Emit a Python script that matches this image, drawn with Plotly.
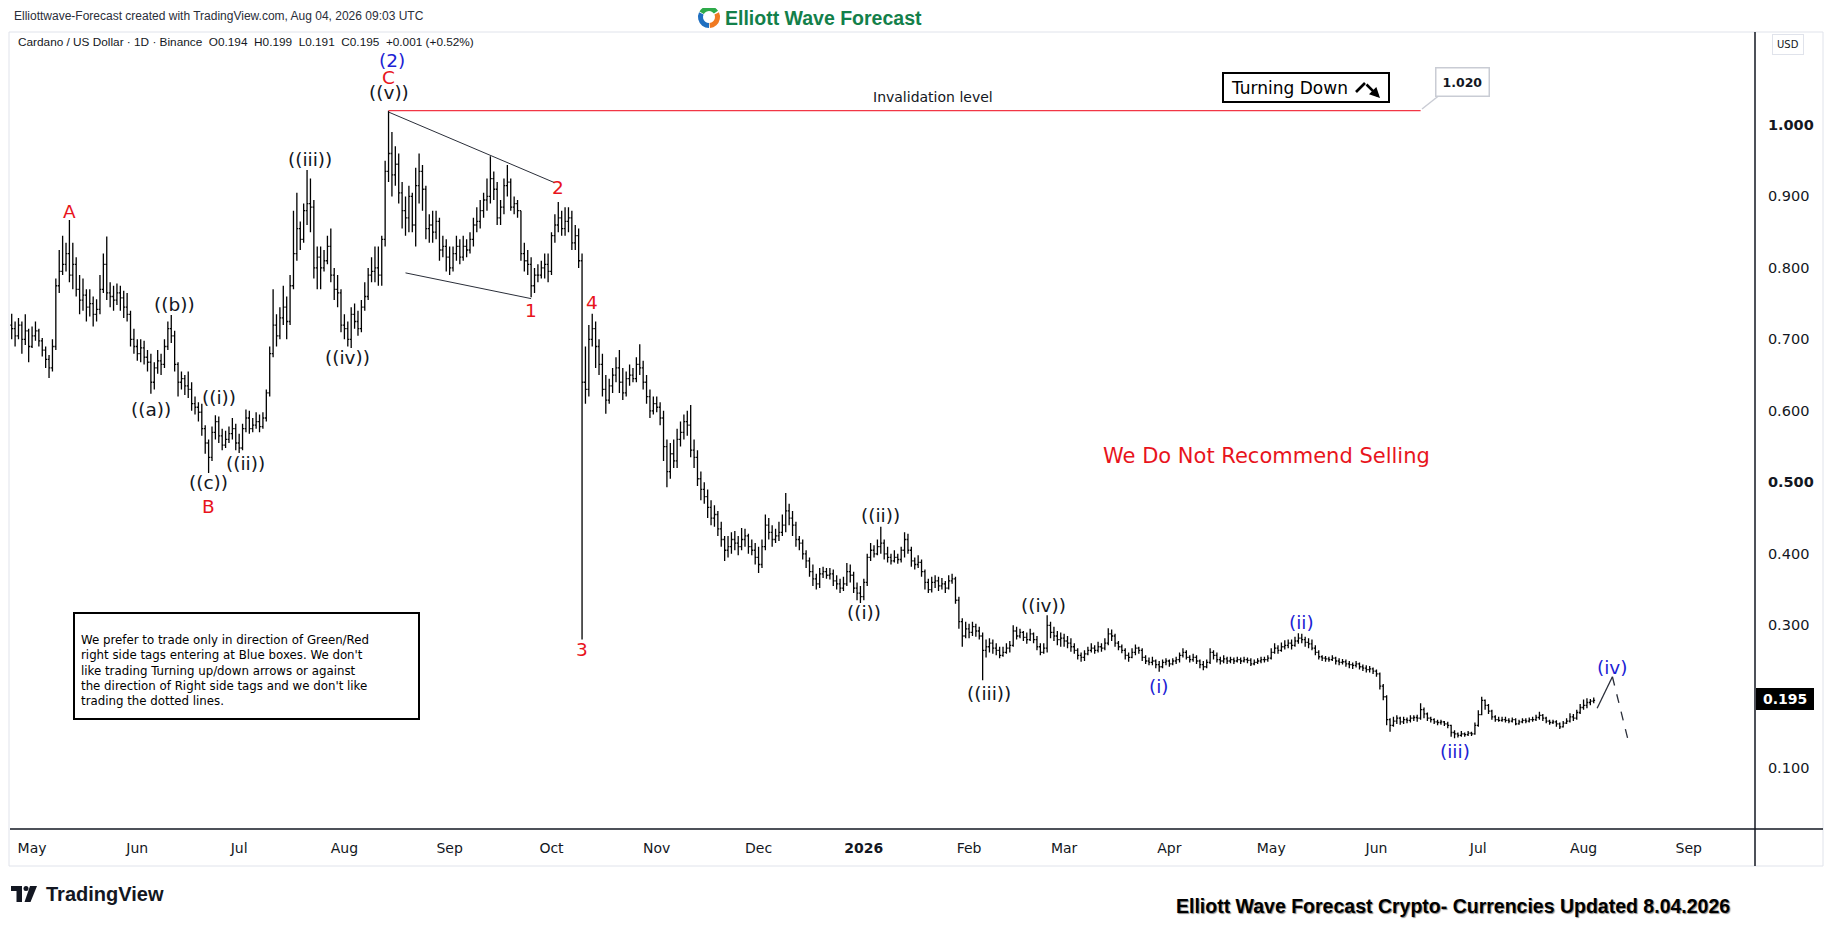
import math
import pandas as pd
import plotly.graph_objects as go

# the page body has an 8px margin, so the figure starts at page pixel (8, 8);
# the pane spans page pixels x 10..1755, y 32..829
W, H = 1827, 917
ML, MR, MT, MB = 2, 80, 24, 96
PW, PH = W - ML - MR, H - MT - MB


def px(x):
    return (x - 10) / PW


def py(y):
    return (829 - y) / PH


# ---- daily ADA/USD bars, 2025-04-25 .. 2026-08-04 ----
first_open = 0.720
close = [
    0.715, 0.705, 0.720, 0.700, 0.712, 0.690,
    0.705, 0.712, 0.698, 0.685, 0.672, 0.660, 0.690, 0.775, 0.795, 0.805, 0.820, 0.790, 0.805, 0.770,
    0.755, 0.762, 0.745, 0.750, 0.735, 0.742, 0.770, 0.805, 0.765, 0.760, 0.755, 0.765, 0.758, 0.745, 0.735, 0.700, 0.690,
    0.680, 0.688, 0.675, 0.668, 0.640, 0.660, 0.670, 0.665, 0.690, 0.715, 0.705, 0.665, 0.640, 0.645,
    0.635, 0.630, 0.610, 0.605, 0.598, 0.575, 0.555, 0.535, 0.570, 0.585, 0.565, 0.552, 0.560, 0.568, 0.575, 0.555,
    0.548, 0.575, 0.590, 0.575, 0.580, 0.585, 0.578, 0.590, 0.625, 0.680, 0.720, 0.705, 0.730, 0.745,
    0.725, 0.775, 0.820, 0.855, 0.840, 0.880, 0.890, 0.885, 0.800, 0.815, 0.800, 0.810, 0.830, 0.790, 0.770, 0.765, 0.720,
    0.715, 0.700, 0.735, 0.725, 0.715, 0.745, 0.760, 0.790, 0.795, 0.800, 0.790, 0.840, 0.935, 0.960,
    0.930, 0.945, 0.905, 0.880, 0.870, 0.900, 0.860, 0.915, 0.935, 0.910, 0.855, 0.860, 0.850, 0.865, 0.825, 0.830, 0.815,
    0.800, 0.820, 0.830, 0.815, 0.830, 0.825, 0.840, 0.860, 0.865, 0.880, 0.895, 0.900, 0.925, 0.910,
    0.870, 0.885, 0.915, 0.920, 0.885, 0.890, 0.880, 0.820, 0.810, 0.805, 0.775, 0.790, 0.790, 0.800, 0.805, 0.795,
    0.845, 0.860, 0.870, 0.855, 0.865, 0.870, 0.835, 0.845, 0.810, 0.640, 0.630, 0.700, 0.715, 0.690,
    0.665, 0.630, 0.615, 0.635, 0.650, 0.660, 0.640, 0.625, 0.645, 0.650, 0.645, 0.665, 0.660, 0.640, 0.620, 0.600, 0.610,
    0.605, 0.590, 0.550, 0.515, 0.540, 0.530, 0.560, 0.570, 0.585, 0.580, 0.545, 0.535, 0.505, 0.490,
    0.480, 0.465, 0.450, 0.455, 0.435, 0.420, 0.405, 0.410, 0.420, 0.415, 0.410, 0.420, 0.425, 0.410, 0.405, 0.395,
    0.385, 0.410, 0.440, 0.430, 0.420, 0.425, 0.430, 0.440, 0.460, 0.450, 0.440, 0.420, 0.415, 0.400,
    0.390, 0.375, 0.365, 0.358, 0.372, 0.375, 0.370, 0.372, 0.362, 0.358, 0.352, 0.358, 0.375, 0.370, 0.352, 0.345, 0.340,
    0.360, 0.395, 0.405, 0.400, 0.410, 0.415, 0.400, 0.395, 0.390, 0.395, 0.392, 0.405, 0.420, 0.405,
    0.390, 0.385, 0.388, 0.375, 0.360, 0.350, 0.360, 0.362, 0.355, 0.358, 0.352, 0.362, 0.365, 0.335, 0.305, 0.285, 0.295,
    0.290, 0.298, 0.292, 0.285, 0.265, 0.270, 0.275, 0.268, 0.265, 0.258, 0.262, 0.268, 0.272, 0.292,
    0.285, 0.290, 0.283, 0.280, 0.288, 0.280, 0.270, 0.262, 0.268, 0.300, 0.290, 0.285, 0.280, 0.282,
    0.278, 0.275, 0.270, 0.265, 0.258, 0.255, 0.260, 0.265, 0.268, 0.265, 0.270, 0.268, 0.275, 0.288,
    0.285, 0.275, 0.270, 0.265, 0.258, 0.255, 0.262, 0.268, 0.265, 0.255, 0.250, 0.248, 0.250, 0.245, 0.242, 0.248, 0.250,
    0.246, 0.250, 0.252, 0.258, 0.262, 0.255, 0.252, 0.255, 0.250, 0.245, 0.242, 0.248, 0.262, 0.258,
    0.252, 0.250, 0.253, 0.250, 0.252, 0.250, 0.252, 0.250, 0.252, 0.251, 0.246, 0.248, 0.250, 0.252, 0.252, 0.254,
    0.262, 0.268, 0.265, 0.270, 0.272, 0.275, 0.272, 0.278, 0.282, 0.280, 0.276, 0.274, 0.268, 0.262,
    0.256, 0.254, 0.253, 0.252, 0.254, 0.250, 0.248, 0.249, 0.246, 0.245, 0.244, 0.246, 0.242, 0.240, 0.238, 0.239, 0.236,
    0.232, 0.215, 0.200, 0.168, 0.160, 0.166, 0.170, 0.165, 0.168, 0.167, 0.170, 0.171, 0.170, 0.182,
    0.176, 0.170, 0.168, 0.165, 0.164, 0.165, 0.162, 0.160, 0.150, 0.148, 0.146, 0.148, 0.147, 0.149, 0.148, 0.160,
    0.175, 0.195, 0.188, 0.180, 0.172, 0.168, 0.167, 0.168, 0.167, 0.166, 0.168, 0.162, 0.165, 0.167,
    0.166, 0.168, 0.168, 0.171, 0.174, 0.170, 0.166, 0.164, 0.165, 0.162, 0.158, 0.163, 0.166, 0.172, 0.170, 0.178, 0.185,
    0.188, 0.192, 0.194, 0.195,
]
high = [
    0.736, 0.725, 0.730, 0.725, 0.735, 0.715,
    0.718, 0.725, 0.715, 0.702, 0.690, 0.678, 0.700, 0.785, 0.825, 0.845, 0.835, 0.867, 0.835, 0.815,
    0.790, 0.785, 0.770, 0.770, 0.760, 0.756, 0.790, 0.820, 0.844, 0.780, 0.775, 0.778, 0.775, 0.768, 0.765, 0.740, 0.715,
    0.700, 0.700, 0.698, 0.685, 0.680, 0.668, 0.685, 0.680, 0.700, 0.725, 0.734, 0.712, 0.668, 0.655,
    0.650, 0.655, 0.640, 0.620, 0.612, 0.610, 0.580, 0.560, 0.578, 0.594, 0.592, 0.575, 0.572, 0.578, 0.590, 0.582,
    0.568, 0.582, 0.602, 0.600, 0.590, 0.598, 0.595, 0.598, 0.630, 0.690, 0.770, 0.735, 0.745, 0.775,
    0.760, 0.790, 0.880, 0.905, 0.865, 0.890, 0.937, 0.925, 0.895, 0.830, 0.830, 0.825, 0.845, 0.855, 0.800, 0.790, 0.770,
    0.735, 0.725, 0.745, 0.750, 0.740, 0.755, 0.780, 0.800, 0.815, 0.830, 0.830, 0.845, 0.950, 1.020,
    0.990, 0.970, 0.960, 0.920, 0.900, 0.915, 0.905, 0.940, 0.960, 0.944, 0.915, 0.875, 0.880, 0.880, 0.870, 0.845, 0.840,
    0.830, 0.830, 0.845, 0.840, 0.845, 0.840, 0.850, 0.870, 0.885, 0.895, 0.905, 0.925, 0.956, 0.935,
    0.920, 0.895, 0.925, 0.944, 0.925, 0.900, 0.895, 0.880, 0.835, 0.825, 0.815, 0.800, 0.805, 0.810, 0.820, 0.820,
    0.850, 0.875, 0.892, 0.880, 0.885, 0.885, 0.880, 0.860, 0.855, 0.820, 0.690, 0.720, 0.736, 0.725,
    0.700, 0.680, 0.650, 0.645, 0.660, 0.675, 0.685, 0.660, 0.655, 0.665, 0.660, 0.675, 0.693, 0.670, 0.650, 0.630, 0.620,
    0.620, 0.612, 0.600, 0.560, 0.555, 0.560, 0.575, 0.585, 0.595, 0.600, 0.608, 0.560, 0.545, 0.515,
    0.500, 0.490, 0.475, 0.468, 0.460, 0.445, 0.425, 0.425, 0.430, 0.432, 0.425, 0.436, 0.435, 0.428, 0.420, 0.415,
    0.410, 0.420, 0.455, 0.450, 0.440, 0.435, 0.445, 0.455, 0.485, 0.470, 0.460, 0.445, 0.425, 0.420,
    0.405, 0.395, 0.385, 0.372, 0.380, 0.382, 0.380, 0.380, 0.378, 0.370, 0.365, 0.368, 0.387, 0.385, 0.375, 0.360, 0.355,
    0.365, 0.400, 0.415, 0.412, 0.420, 0.438, 0.420, 0.410, 0.400, 0.405, 0.400, 0.410, 0.430, 0.428,
    0.410, 0.395, 0.398, 0.392, 0.378, 0.365, 0.368, 0.370, 0.368, 0.366, 0.362, 0.370, 0.372, 0.368, 0.340, 0.310, 0.305,
    0.302, 0.305, 0.302, 0.298, 0.290, 0.280, 0.282, 0.280, 0.275, 0.270, 0.270, 0.275, 0.278, 0.300,
    0.298, 0.295, 0.292, 0.290, 0.295, 0.290, 0.285, 0.275, 0.275, 0.314, 0.305, 0.298, 0.292, 0.290,
    0.288, 0.285, 0.282, 0.275, 0.268, 0.262, 0.265, 0.270, 0.275, 0.272, 0.277, 0.275, 0.282, 0.296,
    0.294, 0.288, 0.278, 0.273, 0.268, 0.262, 0.268, 0.273, 0.270, 0.268, 0.258, 0.255, 0.256, 0.252, 0.250, 0.252, 0.254,
    0.252, 0.254, 0.256, 0.262, 0.268, 0.265, 0.258, 0.260, 0.258, 0.252, 0.250, 0.252, 0.268, 0.265,
    0.262, 0.256, 0.258, 0.256, 0.256, 0.255, 0.256, 0.255, 0.256, 0.255, 0.254, 0.252, 0.254, 0.256, 0.256, 0.258,
    0.268, 0.275, 0.272, 0.276, 0.279, 0.280, 0.280, 0.284, 0.289, 0.288, 0.284, 0.282, 0.280, 0.272,
    0.265, 0.258, 0.257, 0.256, 0.258, 0.256, 0.254, 0.253, 0.252, 0.250, 0.248, 0.250, 0.248, 0.245, 0.244, 0.243, 0.241,
    0.238, 0.234, 0.218, 0.202, 0.170, 0.172, 0.174, 0.172, 0.172, 0.171, 0.174, 0.174, 0.175, 0.191,
    0.185, 0.178, 0.172, 0.170, 0.168, 0.168, 0.166, 0.165, 0.161, 0.153, 0.150, 0.152, 0.150, 0.152, 0.151, 0.164,
    0.181, 0.200, 0.196, 0.190, 0.182, 0.174, 0.172, 0.172, 0.172, 0.170, 0.171, 0.170, 0.168, 0.170,
    0.170, 0.171, 0.172, 0.175, 0.179, 0.176, 0.172, 0.168, 0.168, 0.167, 0.164, 0.166, 0.170, 0.177, 0.176, 0.182, 0.190,
    0.196, 0.198, 0.197, 0.199,
]
low = [
    0.700, 0.690, 0.700, 0.680, 0.692, 0.668,
    0.688, 0.698, 0.690, 0.676, 0.660, 0.646, 0.655, 0.685, 0.765, 0.790, 0.795, 0.780, 0.770, 0.760,
    0.735, 0.740, 0.725, 0.732, 0.718, 0.725, 0.735, 0.765, 0.755, 0.745, 0.740, 0.748, 0.740, 0.730, 0.725, 0.690, 0.680,
    0.670, 0.668, 0.665, 0.655, 0.624, 0.630, 0.652, 0.650, 0.660, 0.685, 0.695, 0.655, 0.620, 0.630,
    0.622, 0.618, 0.600, 0.595, 0.585, 0.565, 0.540, 0.513, 0.530, 0.560, 0.555, 0.545, 0.548, 0.555, 0.560, 0.545,
    0.541, 0.545, 0.570, 0.568, 0.570, 0.575, 0.570, 0.575, 0.585, 0.620, 0.675, 0.690, 0.700, 0.720,
    0.700, 0.720, 0.770, 0.810, 0.825, 0.835, 0.860, 0.850, 0.785, 0.770, 0.770, 0.795, 0.805, 0.780, 0.755, 0.745, 0.710,
    0.700, 0.690, 0.688, 0.715, 0.705, 0.710, 0.740, 0.755, 0.780, 0.780, 0.775, 0.775, 0.830, 0.920,
    0.900, 0.915, 0.890, 0.855, 0.845, 0.850, 0.850, 0.830, 0.890, 0.880, 0.840, 0.835, 0.835, 0.840, 0.810, 0.815, 0.795,
    0.790, 0.795, 0.810, 0.805, 0.810, 0.815, 0.820, 0.830, 0.850, 0.855, 0.870, 0.880, 0.890, 0.895,
    0.860, 0.860, 0.875, 0.900, 0.880, 0.875, 0.870, 0.810, 0.795, 0.790, 0.759, 0.765, 0.780, 0.785, 0.785, 0.780,
    0.790, 0.835, 0.850, 0.845, 0.845, 0.850, 0.825, 0.825, 0.800, 0.280, 0.610, 0.620, 0.690, 0.660,
    0.650, 0.620, 0.596, 0.610, 0.625, 0.640, 0.625, 0.615, 0.620, 0.635, 0.640, 0.640, 0.650, 0.630, 0.610, 0.590, 0.595,
    0.598, 0.580, 0.530, 0.493, 0.505, 0.520, 0.520, 0.550, 0.560, 0.565, 0.535, 0.520, 0.495, 0.475,
    0.470, 0.450, 0.440, 0.438, 0.425, 0.410, 0.390, 0.395, 0.400, 0.405, 0.398, 0.405, 0.410, 0.400, 0.398, 0.385,
    0.373, 0.380, 0.405, 0.420, 0.410, 0.415, 0.418, 0.425, 0.430, 0.440, 0.425, 0.410, 0.405, 0.392,
    0.380, 0.368, 0.355, 0.350, 0.352, 0.366, 0.365, 0.364, 0.355, 0.350, 0.345, 0.348, 0.355, 0.360, 0.345, 0.335, 0.331,
    0.335, 0.355, 0.390, 0.395, 0.398, 0.400, 0.392, 0.388, 0.385, 0.388, 0.386, 0.388, 0.395, 0.400,
    0.382, 0.378, 0.380, 0.368, 0.350, 0.345, 0.346, 0.352, 0.348, 0.350, 0.345, 0.350, 0.358, 0.330, 0.295, 0.270, 0.282,
    0.282, 0.285, 0.284, 0.280, 0.223, 0.255, 0.262, 0.260, 0.258, 0.254, 0.256, 0.260, 0.262, 0.270,
    0.280, 0.282, 0.278, 0.274, 0.278, 0.275, 0.265, 0.258, 0.260, 0.262, 0.282, 0.278, 0.272, 0.270,
    0.270, 0.268, 0.263, 0.260, 0.252, 0.249, 0.250, 0.258, 0.262, 0.260, 0.262, 0.263, 0.265, 0.272,
    0.278, 0.270, 0.265, 0.261, 0.252, 0.249, 0.254, 0.258, 0.260, 0.250, 0.246, 0.244, 0.244, 0.240, 0.235, 0.240, 0.244,
    0.242, 0.244, 0.246, 0.248, 0.255, 0.252, 0.248, 0.249, 0.246, 0.240, 0.237, 0.240, 0.246, 0.252,
    0.248, 0.245, 0.247, 0.246, 0.247, 0.246, 0.248, 0.246, 0.248, 0.247, 0.243, 0.244, 0.246, 0.247, 0.248, 0.249,
    0.252, 0.260, 0.260, 0.263, 0.266, 0.268, 0.266, 0.270, 0.274, 0.275, 0.270, 0.268, 0.265, 0.258,
    0.252, 0.250, 0.249, 0.249, 0.250, 0.245, 0.244, 0.245, 0.242, 0.240, 0.239, 0.241, 0.238, 0.236, 0.234, 0.234, 0.232,
    0.228, 0.210, 0.195, 0.160, 0.151, 0.158, 0.162, 0.161, 0.162, 0.163, 0.164, 0.166, 0.165, 0.168,
    0.170, 0.166, 0.164, 0.162, 0.160, 0.161, 0.159, 0.156, 0.144, 0.142, 0.143, 0.144, 0.144, 0.145, 0.145, 0.147,
    0.158, 0.174, 0.182, 0.176, 0.168, 0.165, 0.165, 0.165, 0.164, 0.163, 0.164, 0.160, 0.161, 0.163,
    0.163, 0.164, 0.165, 0.166, 0.168, 0.166, 0.163, 0.161, 0.162, 0.158, 0.155, 0.157, 0.162, 0.164, 0.166, 0.168, 0.176,
    0.182, 0.184, 0.188, 0.191,
]

# axis ticks
month_ticks = ["2025-05-01", "2025-06-01", "2025-07-01", "2025-08-01", "2025-09-01", "2025-10-01",
               "2025-11-01", "2025-12-01", "2026-01-01", "2026-02-01", "2026-03-01", "2026-04-01",
               "2026-05-01", "2026-06-01", "2026-07-01", "2026-08-01", "2026-09-01"]
month_labels = ["May", "Jun", "Jul", "Aug", "Sep", "Oct", "Nov", "Dec", "<b>2026</b>", "Feb", "Mar",
                "Apr", "May", "Jun", "Jul", "Aug", "Sep"]
price_ticks = [0.1, 0.2, 0.3, 0.4, 0.5, 0.6, 0.7, 0.8, 0.9, 1.0]
price_labels = ["0.100", "", "0.300", "0.400", "<b>0.500</b>", "0.600", "0.700", "0.800", "0.900",
                "<b>1.000</b>"]
last_price = 0.195
invalidation = 1.020

RED, BLUE, INK = "#e8141c", "#1c22d4", "#131722"

# Elliott wave labels: text, date, price, colour
wave_text = ["A", "((b))", "((a))", "((i))", "((c))", "B", "((ii))", "((iii))", "((iv))", "((v))", "C", "(2)",
             "1", "2", "3", "4", "((ii))", "((i))", "((iv))", "((iii))", "(i)", "(ii)", "(iii)", "(iv)"]
wave_date = ["2025-05-12", "2025-06-12", "2025-06-05", "2025-06-25", "2025-06-22", "2025-06-22",
             "2025-07-03", "2025-07-22", "2025-08-02", "2025-08-14", "2025-08-14", "2025-08-15",
             "2025-09-25", "2025-10-03", "2025-10-10", "2025-10-13", "2026-01-06", "2026-01-01",
             "2026-02-23", "2026-02-07", "2026-03-29", "2026-05-10", "2026-06-24", "2026-08-09 12:00"]
wave_price = [0.879, 0.749, 0.602, 0.618, 0.500, 0.466, 0.526, 0.951, 0.674, 1.045, 1.066, 1.090,
              0.741, 0.913, 0.266, 0.751, 0.453, 0.318, 0.327, 0.204, 0.215, 0.304, 0.123, 0.241]
wave_color = [RED, INK, INK, INK, INK, RED, INK, INK, INK, INK, RED, BLUE,
              RED, RED, RED, RED, INK, INK, INK, INK, BLUE, BLUE, BLUE, BLUE]

# drawn lines: (date0, price0, date1, price1)
triangle_lines = [("2025-08-14", 1.018, "2025-10-02", 0.919),
                  ("2025-08-19", 0.793, "2025-09-25", 0.757)]
projection_up = ("2026-08-05", 0.184, "2026-08-09 12:00", 0.228)
projection_down = ("2026-08-09 12:00", 0.228, "2026-08-14 12:00", 0.132)
invalidation_span = ("2025-08-14", "2026-06-14")

note = ("We prefer to trade only in direction of Green/Red<br>"
        "right side tags entering at Blue boxes. We don't<br>"
        "like trading Turning up/down arrows or against<br>"
        "the direction of Right side tags and we don't like<br>"
        "trading the dotted lines.")

# ---- bars ----
dates = pd.date_range("2025-04-25", periods=len(close), freq="D")
opens = [first_open] + close[:-1]
highs = [max(h, o, c) for h, o, c in zip(high, opens, close)]
lows = [min(l, o, c) for l, o, c in zip(low, opens, close)]

fig = go.Figure(go.Ohlc(
    x=dates, open=opens, high=highs, low=lows, close=close,
    increasing=dict(line=dict(color="black", width=1.3)),
    decreasing=dict(line=dict(color="black", width=1.3)),
    tickwidth=0.4, hoverinfo="skip", showlegend=False,
))

shapes = []


def seg(x0, y0, x1, y1, color, width=1, dash="solid", ref="data"):
    d = dict(type="line", x0=x0, y0=y0, x1=x1, y1=y1, line=dict(color=color, width=width, dash=dash),
             layer="above")
    if ref == "paper":
        d.update(xref="paper", yref="paper")
    shapes.append(d)


# pane frame and axis lines
shapes.append(dict(type="rect", xref="paper", yref="paper", x0=px(9), x1=px(1823), y0=py(32), y1=py(866),
                   line=dict(color="#e0e3eb", width=1), layer="below"))
seg(px(1755), py(32), px(1755), py(866), "#131722", 1.5, ref="paper")
seg(px(10), py(829), px(1823), py(829), "#131722", 1.5, ref="paper")

# invalidation level + pointer of the price callout
seg(invalidation_span[0], invalidation, invalidation_span[1], invalidation, "#f23645", 1.2)
seg(px(1422), py(109), px(1441), py(94), "#c9ccd4", 1.5, ref="paper")

for x0, y0, x1, y1 in triangle_lines:
    seg(x0, y0, x1, y1, "#2a2e39", 1)
seg(*projection_up, "#2a2e39", 1.3)
seg(*projection_down, "#2a2e39", 1.3, dash="dash")

# note box, turning-down box, last price tag
shapes.append(dict(type="rect", xref="paper", yref="paper", x0=px(74), x1=px(419), y0=py(613), y1=py(719),
                   line=dict(color="black", width=2), fillcolor="white", layer="above"))
shapes.append(dict(type="rect", xref="paper", yref="paper", x0=px(1223), x1=px(1389), y0=py(73), y1=py(102),
                   line=dict(color="black", width=2), fillcolor="white", layer="above"))
seg(px(1356), py(92), px(1365), py(83), "black", 2.6, ref="paper")
shapes.append(dict(type="rect", xref="paper", yref="paper", x0=px(1756), x1=px(1814), y0=py(688), y1=py(710),
                   line=dict(width=0), fillcolor="black", layer="above"))

# logo swirl (three coloured arcs)
cx, cy, rr = 709, 17, 8.5
for a0, a1, col in [(35, 150, "#2eaa4a"), (155, 270, "#1f6fc0"), (275, 385, "#f07a22")]:
    path = ""
    steps = 3
    for k in range(steps):
        t0 = math.radians(a0 + (a1 - a0) * k / steps)
        t1 = math.radians(a0 + (a1 - a0) * (k + 1) / steps)
        tm = (t0 + t1) / 2
        rc = rr / math.cos((t1 - t0) / 2)
        p0 = (cx + rr * math.cos(t0), cy - rr * math.sin(t0))
        pc = (cx + rc * math.cos(tm), cy - rc * math.sin(tm))
        p1 = (cx + rr * math.cos(t1), cy - rr * math.sin(t1))
        if k == 0:
            path += f"M {px(p0[0])},{py(p0[1])} "
        path += f"Q {px(pc[0])},{py(pc[1])} {px(p1[0])},{py(p1[1])} "
    shapes.append(dict(type="path", xref="paper", yref="paper", path=path,
                       line=dict(color=col, width=5), layer="above"))

# TradingView mark
shapes.append(dict(type="rect", xref="paper", yref="paper", x0=px(11), x1=px(22), y0=py(886), y1=py(891),
                   fillcolor="#131722", line=dict(width=0)))
shapes.append(dict(type="rect", xref="paper", yref="paper", x0=px(16.5), x1=px(22), y0=py(886), y1=py(902),
                   fillcolor="#131722", line=dict(width=0)))
shapes.append(dict(type="circle", xref="paper", yref="paper", x0=px(23.5), x1=px(28.5), y0=py(886),
                   y1=py(891), fillcolor="#131722", line=dict(width=0)))
shapes.append(dict(type="path", xref="paper", yref="paper",
                   path=f"M {px(30)},{py(886)} L {px(37)},{py(886)} L {px(30.5)},{py(902)} "
                        f"L {px(24.5)},{py(902)} Z",
                   fillcolor="#131722", line=dict(width=0)))

ann = []


def text(x, y, s, size, color=INK, family="DejaVu Sans", xanchor="center", yanchor="middle", ref="paper",
         **kw):
    d = dict(x=x, y=y, text=s, showarrow=False, xanchor=xanchor, yanchor=yanchor,
             font=dict(size=size, color=color, family=family))
    if ref == "paper":
        d.update(xref="paper", yref="paper")
    d.update(kw)
    ann.append(d)


for t, d, p, c in zip(wave_text, wave_date, wave_price, wave_color):
    text(d, p, t, 18.5, c, ref="data")

text(px(12), py(16), "Elliottwave-Forecast created with TradingView.com, Aug 04, 2026 09:03 UTC", 12,
     "#2a2e39", "Liberation Sans", xanchor="left")
text(px(723), py(18), "<b>Elliott Wave Forecast</b>", 19.5, "#13804a", "Liberation Sans", xanchor="left")
text(px(16), py(42),
     "Cardano / US Dollar · 1D · Binance\u00a0\u00a0O0.194\u00a0\u00a0H0.199\u00a0\u00a0L0.191"
     "\u00a0\u00a0C0.195\u00a0\u00a0+0.001 (+0.52%)", 11.8, INK, "Liberation Sans", xanchor="left")
text(px(1788), py(45), "USD", 10, INK, "DejaVu Sans", bordercolor="#e0e3eb", borderwidth=1, borderpad=4,
     bgcolor="white")
text(px(1785), py(699), "<b>0.195</b>", 14, "white", "DejaVu Sans")
text(px(933), py(97), "Invalidation level", 14, INK)
text(px(1462), py(82), "<b>1.020</b>", 12.5, INK, bordercolor="#c9ccd4", borderwidth=1.5, borderpad=6,
     bgcolor="white")
text(px(1229), py(88), "Turning Down", 17, "black", xanchor="left")
ann.append(dict(xref="paper", yref="paper", x=px(1380), y=py(98), ax=-15, ay=-15, text="",
                showarrow=True, arrowhead=2, arrowsize=0.8, arrowwidth=2.6, arrowcolor="black"))
text(px(1266), py(456), "We Do Not Recommend Selling", 21, RED)
text(px(79), py(631), note, 11.8, "black", xanchor="left", yanchor="top", align="left")
text(px(44), py(894), "<b>TradingView</b>", 20, "#131722", "Liberation Sans", xanchor="left")
text(px(1732), py(906), "<b>Elliott Wave Forecast Crypto- Currencies Updated 8.04.2026</b>", 19.5, "black",
     "Liberation Sans Narrow, Liberation Sans", xanchor="right")
ann[-1]["font"]["shadow"] = "1px 1px 1px #8a8a8a"

fig.update_layout(
    width=W, height=H, margin=dict(l=ML, r=MR, t=MT, b=MB),
    paper_bgcolor="white", plot_bgcolor="white",
    shapes=shapes, annotations=ann, showlegend=False, hovermode=False,
    xaxis=dict(type="date", range=["2025-04-24 12:00", "2026-09-20 12:00"], rangeslider=dict(visible=False),
               showgrid=False, zeroline=False, showline=False, tickvals=month_ticks, ticktext=month_labels,
               ticks="outside", ticklen=6, tickcolor="rgba(0,0,0,0)",
               tickfont=dict(family="DejaVu Sans", size=14, color=INK)),
    yaxis=dict(side="right", range=[0.015, 1.130], showgrid=False, zeroline=False, showline=False,
               tickvals=price_ticks, ticktext=price_labels, ticks="outside", ticklen=9,
               tickcolor="rgba(0,0,0,0)", tickfont=dict(family="DejaVu Sans", size=14.5, color=INK)),
)

fig.write_html("out.html", config={"displayModeBar": False})
